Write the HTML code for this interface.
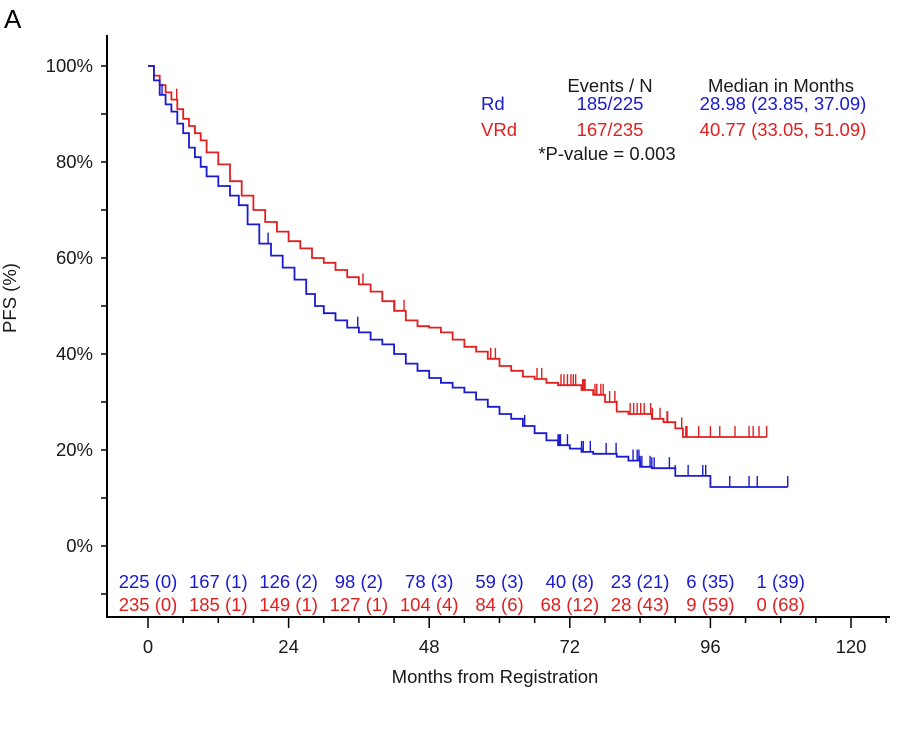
<!DOCTYPE html>
<html><head><meta charset="utf-8"><style>
html,body{margin:0;padding:0;background:#fff;}
svg text{font-family:"Liberation Sans",sans-serif;}
</style></head><body>
<svg id="c" width="918" height="724" viewBox="0 0 918 724" xmlns="http://www.w3.org/2000/svg">
<text x="4" y="28" font-size="26" fill="#000">A</text>
<g id="axes"></g><g id="plot"></g><g id="legend"></g><g id="risk"></g>
</svg>
<script>
const rdTimes=[0,1,2,3,4,5,6,7,8,9,10,12,14,15.5,17,19,21,23,25,27,28.5,30,32,34,36,38,40,42,44,46,48,50,52,54,56,58,60,62,64,66,68,70,72,74,76,80,82,84,86,90,94,96,109.2];
const rdSurv=[100,97,94,92,90.5,88,86,83,81,79,77,75,73,71,67,63,60.5,58,55.5,52.5,50,48.5,47,45.5,44.5,43,42,40,38,36.5,35,34,33,32,30.5,29,27.5,26.5,25,23.5,22,21,20.3,19.6,19.2,18.6,17.8,16.5,16.2,14.6,14.6,12.3,12.3];
const vrdTimes=[0,1,2,3,4,5,6,7,8,9,10,12,14,16,18,20,22,24,26,28,30,32,34,36,38,40,42,44,46,48,50,52,54,56,58,60,62,64,66,68,70,74,76,78,80,82,86,88,90,91.3,105.6];
const vrdSurv=[100,98,96,94.5,93,91,89,87.5,86,84.5,82,79.5,76,73,70,67.5,65.5,63.5,62,60,59,57.5,56,54.5,53,51,49,47,45.8,45.5,44.5,43,41.5,40.5,39,37.5,36.5,35.3,34.8,34,33.5,32.5,31.5,30,28,27.5,26.5,25.8,24.5,22.7,22.7];
const rdCensor=[2.4,20.5,35.8,64.3,70,70.2,70.4,71.6,74,74.3,75.5,78.2,79.9,82.8,83.5,83.8,84,84.3,85.7,86,86.4,89,90,92.2,94.7,95.2,99.3,102.6,104,109.2];
const vrdCensor=[4.9,36.7,42.1,43.7,58.5,59.3,66.4,67.2,70.5,71,71.6,72.2,72.6,73,74.2,74.4,74.6,76.3,76.6,77.3,77.7,78.8,79.7,80,82.3,82.9,83.5,84.1,84.7,85.8,86.1,87.4,88.6,88.7,91.1,91.8,92,94,96,97.6,100.2,102.6,103.3,104.3,105.6];
const riskMonths=[0,12,24,36,48,60,72,84,96,108];
const rdRisk=["225 (0)","167 (1)","126 (2)","98 (2)","78 (3)","59 (3)","40 (8)","23 (21)","6 (35)","1 (39)"];
const vrdRisk=["235 (0)","185 (1)","149 (1)","127 (1)","104 (4)","84 (6)","68 (12)","28 (43)","9 (59)","0 (68)"];
const xTicks=[0,24,48,72,96,120];
const yTicks=[0,20,40,60,80,100];

const NS="http://www.w3.org/2000/svg";
const X=m=>148+m*(703/120);
const Y=s=>546-s*4.8;
function mk(tag,attrs,parent,txt){const e=document.createElementNS(NS,tag);for(const k in attrs)e.setAttribute(k,attrs[k]);if(txt!==undefined)e.textContent=txt;parent.appendChild(e);return e;}
const axes=document.getElementById('axes'),plot=document.getElementById('plot'),legend=document.getElementById('legend'),risk=document.getElementById('risk');
const BLUE="#1a1ad0",RED="#e02020",TXT="#1a1a1a";
const FS=18.5;
let e;
e=mk('line',{x1:107,y1:35,x2:107,y2:617,stroke:'#000','stroke-width':2},axes);


e=mk('line',{x1:106,y1:617,x2:890,y2:617,stroke:'#000','stroke-width':2},axes);


for(let s=-10;s<=100;s+=10){const y=Y(s);if(y<40)continue;
 e=mk('line',{x1:101,y1:y,x2:107,y2:y,stroke:'#000','stroke-width':1.5},axes);
 
 }
yTicks.forEach(v=>{e=mk('text',{x:93,y:Y(v)+6,'font-size':FS,'text-anchor':'end',fill:TXT},axes,v+'%');
 
 });
for(let m=0;m<=126;m+=6){const x=X(m);if(x>888)break;const maj=m%24===0;
 e=mk('line',{x1:x,y1:617,x2:x,y2:maj?628:623,stroke:'#000','stroke-width':1.5},axes);
 
 }
xTicks.forEach(v=>{e=mk('text',{x:X(v),y:653,'font-size':FS,'text-anchor':'middle',fill:TXT},axes,String(v));
 
 });
e=mk('text',{x:495,y:683,'font-size':FS,'text-anchor':'middle',fill:TXT},axes,'Months from Registration');


e=mk('text',{x:0,y:0,'font-size':FS,'text-anchor':'middle',fill:TXT,transform:'translate(16,298) rotate(-90)'},axes,'PFS (%)');



function stepPath(t,s){let d='M'+X(t[0])+','+Y(s[0]);for(let i=1;i<t.length;i++){d+=' H'+X(t[i]).toFixed(1)+' V'+Y(s[i]).toFixed(1);}return d;}
function survAt(t,s,m){let v=s[0];for(let i=0;i<t.length;i++){if(t[i]<=m)v=s[i];}return v;}
e=mk('path',{d:stepPath(vrdTimes,vrdSurv),fill:'none',stroke:RED,'stroke-width':1.8},plot);


e=mk('path',{d:stepPath(rdTimes,rdSurv),fill:'none',stroke:BLUE,'stroke-width':1.8},plot);


rdCensor.forEach(m=>{const y=Y(survAt(rdTimes,rdSurv,m));
 e=mk('line',{x1:X(m),y1:y,x2:X(m),y2:y-11,stroke:BLUE,'stroke-width':1.4},plot);
 
 });
vrdCensor.forEach(m=>{const y=Y(survAt(vrdTimes,vrdSurv,m));
 e=mk('line',{x1:X(m),y1:y,x2:X(m),y2:y-11,stroke:RED,'stroke-width':1.4},plot);
 
 });

const L=[[610,92,'Events / N',TXT,'middle','legend-header-events'],[781,92,'Median in Months',TXT,'middle','legend-header-median'],
[481,110,'Rd',BLUE,'start','legend-rd-label'],[610,110,'185/225',BLUE,'middle','legend-rd-events'],[783,110,'28.98 (23.85, 37.09)',BLUE,'middle','legend-rd-median'],
[481,136,'VRd',RED,'start','legend-vrd-label'],[610,136,'167/235',RED,'middle','legend-vrd-events'],[783,136,'40.77 (33.05, 51.09)',RED,'middle','legend-vrd-median'],
[607,160,'*P-value = 0.003',TXT,'middle','legend-pvalue']];
L.forEach(a=>{e=mk('text',{x:a[0],y:a[1],'font-size':FS,'text-anchor':a[4],fill:a[3]},legend,a[2]);
 
 });
riskMonths.forEach((m,i)=>{
 e=mk('text',{x:X(m),y:588,'font-size':FS,'text-anchor':'middle',fill:BLUE},risk,rdRisk[i]);
 
 
 e=mk('text',{x:X(m),y:611,'font-size':FS,'text-anchor':'middle',fill:RED},risk,vrdRisk[i]);
 
 });
</script>
</body></html>
